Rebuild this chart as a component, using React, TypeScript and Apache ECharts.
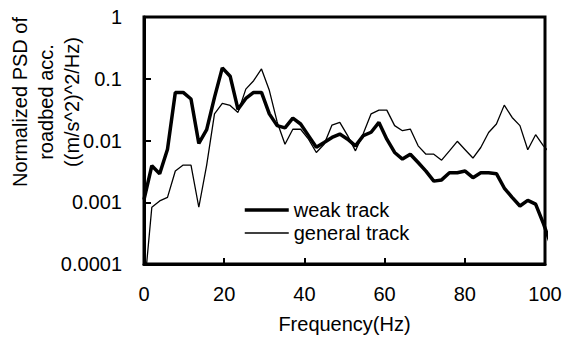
import React, { useEffect, useRef } from "react";
import * as echarts from "echarts";

const freq = [0, 1.95, 3.91, 5.86, 7.81, 9.77, 11.72, 13.67, 15.63, 17.58, 19.53, 21.48, 23.44, 25.39, 27.34, 29.3, 31.25, 33.2, 35.16, 37.11, 39.06, 41.02, 42.97, 44.92, 46.88, 48.83, 50.78, 52.73, 54.69, 56.64, 58.59, 60.55, 62.5, 64.45, 66.41, 68.36, 70.31, 72.27, 74.22, 76.17, 78.13, 80.08, 82.03, 83.98, 85.94, 87.89, 89.84, 91.8, 93.75, 95.7, 97.66, 99.61, 101.56];

const weakTrack = [0.0011, 0.0039, 0.0029, 0.0072, 0.06, 0.06, 0.047, 0.009, 0.015, 0.05, 0.15, 0.11, 0.032, 0.048, 0.06, 0.06, 0.027, 0.0174, 0.016, 0.023, 0.0185, 0.012, 0.0078, 0.0093, 0.0112, 0.0127, 0.0105, 0.0082, 0.012, 0.0136, 0.0196, 0.0105, 0.0064, 0.005, 0.006, 0.0044, 0.0032, 0.0022, 0.0023, 0.003, 0.003, 0.0032, 0.0025, 0.003, 0.003, 0.0029, 0.0017, 0.0012, 0.00087, 0.00107, 0.00093, 0.00045, 0.0002];

const generalTrack = [0.000035, 0.00083, 0.00105, 0.0012, 0.0032, 0.004, 0.004, 0.00083, 0.004, 0.027, 0.04, 0.037, 0.0285, 0.068, 0.093, 0.144, 0.065, 0.02, 0.0087, 0.0152, 0.0152, 0.0105, 0.0064, 0.0087, 0.0178, 0.0196, 0.012, 0.0068, 0.013, 0.027, 0.031, 0.031, 0.0174, 0.0144, 0.0153, 0.0082, 0.006, 0.006, 0.0048, 0.0068, 0.0097, 0.0071, 0.0052, 0.0077, 0.0135, 0.0185, 0.0374, 0.0236, 0.0174, 0.0071, 0.0124, 0.0082, 0.006];

const seriesNames = ["weak track", "general track"];
const xAxisTitle = "Frequency(Hz)";
const yAxisTitle = "Normalized PSD of\nroadbed acc.\n((m/s^2)^2/Hz)";

const FONT = "'Liberation Sans', Arial, sans-serif";
const WEAK_W = 3.5;
const GEN_W = 1.3;

export default function App() {
  const ref = useRef<HTMLDivElement>(null);
  useEffect(() => {
    if (!ref.current) return;
    const chart = echarts.init(ref.current, null, { renderer: "svg" });
    const pairs = (vals: number[]) => freq.map((f, i) => [f, vals[i]]);
    chart.setOption({
      animation: false,
      textStyle: { fontFamily: FONT },
      grid: {
        left: 144,
        right: 21,
        top: 17,
        bottom: 74,
        show: true,
        borderColor: "#000",
        borderWidth: 3,
      },
      legend: {
        orient: "vertical",
        left: 243,
        top: 200,
        padding: 0,
        itemWidth: 44,
        itemHeight: 14,
        itemGap: 3,
        textStyle: { fontSize: 20, color: "#000", fontFamily: FONT },
        data: [
          { name: seriesNames[0], itemStyle: { opacity: 0 }, lineStyle: { width: WEAK_W, color: "#000" } },
          { name: seriesNames[1], itemStyle: { opacity: 0 }, lineStyle: { width: GEN_W, color: "#000" } },
        ],
      },
      xAxis: {
        type: "value",
        min: 0,
        max: 100,
        interval: 20,
        name: xAxisTitle,
        nameLocation: "middle",
        nameGap: 50,
        nameTextStyle: { fontSize: 20, color: "#000", fontFamily: FONT },
        axisLine: { lineStyle: { color: "#000", width: 3 } },
        axisTick: { inside: true, length: 6, lineStyle: { color: "#000", width: 2 } },
        axisLabel: { fontSize: 20, color: "#000", margin: 20, fontFamily: FONT },
        splitLine: { show: false },
      },
      yAxis: {
        type: "log",
        logBase: 10,
        min: 0.0001,
        max: 1,
        axisLine: { show: true, lineStyle: { color: "#000", width: 3 } },
        axisTick: { show: true, inside: true, length: 7, lineStyle: { color: "#000", width: 2 } },
        axisLabel: {
          fontSize: 20,
          color: "#000",
          margin: 22,
          fontFamily: FONT,
          formatter: (v: number) => String(Number(v.toPrecision(1))),
        },
        splitLine: { show: false },
      },
      graphic: [
        {
          type: "text",
          x: 46,
          y: 102,
          rotation: Math.PI / 2,
          style: {
            text: yAxisTitle,
            fontSize: 20,
            fontFamily: FONT,
            fill: "#000",
            align: "center",
            verticalAlign: "middle",
            lineHeight: 26,
          },
        },
      ],
      series: [
        {
          name: seriesNames[0],
          type: "line",
          data: pairs(weakTrack),
          symbol: "none",
          clip: true,
          lineStyle: { color: "#000", width: WEAK_W },
          itemStyle: { color: "#000" },
        },
        {
          name: seriesNames[1],
          type: "line",
          data: pairs(generalTrack),
          symbol: "none",
          clip: true,
          lineStyle: { color: "#000", width: GEN_W },
          itemStyle: { color: "#000" },
        },
      ],
    });
    return () => chart.dispose();
  }, []);
  return <div ref={ref} style={{ width: 566, height: 339, position: "absolute", left: 0, top: 0 }} />;
}
